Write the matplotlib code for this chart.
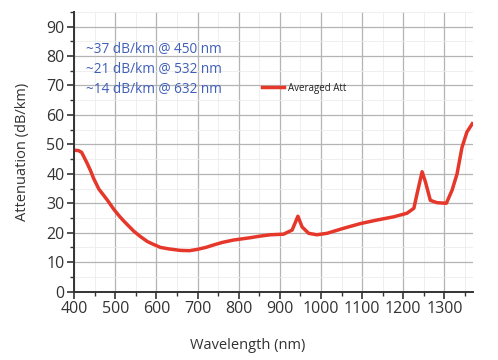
import numpy as np
import matplotlib.pyplot as plt
from matplotlib.ticker import MultipleLocator

# averaged attenuation
wavelength = [400, 410, 418, 430, 440, 447, 460, 470, 481, 496, 510, 521, 545,
              560, 578, 590, 610, 630, 658, 680, 698, 720, 738, 760, 787, 828,
              850, 877, 909, 930, 944, 954, 970, 990, 1015, 1055, 1096, 1136,
              1177, 1209, 1226, 1234, 1246, 1254, 1266, 1282, 1305, 1319, 1331,
              1343, 1355, 1368]
atten = [48.0, 47.9, 47.3, 44.0, 41.0, 38.5, 34.8, 33.0, 31.0, 28.0, 25.6,
         23.9, 20.5, 18.8, 17.0, 16.2, 15.0, 14.5, 14.0, 13.9, 14.3, 15.0, 15.8,
         16.7, 17.5, 18.3, 18.8, 19.3, 19.5, 20.9, 25.6, 22.0, 19.8, 19.3, 19.8,
         21.5, 23.1, 24.3, 25.4, 26.6, 28.3, 33.4, 40.7, 37.3, 31.0, 30.2, 30.0,
         34.5, 40.0, 49.0, 54.2, 57.0]

notes = ['~37 dB/km @ 450 nm', '~21 dB/km @ 532 nm', '~14 dB/km @ 632 nm']

plt.rcParams['font.family'] = ['Open Sans', 'DejaVu Sans']

fig = plt.figure(figsize=(4.98, 3.6), dpi=100)
ax = fig.add_axes([0.149, 0.19, 0.801, 0.777])

ax.plot(wavelength, atten, color='#e6372b', lw=2.5, label='Averaged Att',
        solid_joinstyle='round')

ax.set_xlim(400, 1370)
ax.set_ylim(0, 95)
ax.xaxis.set_minor_locator(MultipleLocator(50))
ax.yaxis.set_minor_locator(MultipleLocator(5))
ax.set_xticks(np.arange(400, 1301, 100))
ax.set_yticks(np.arange(0, 91, 10))

ax.grid(which='major', color='#b4b4b4', lw=0.9)
ax.grid(which='minor', color='#ececec', lw=0.6)
ax.set_axisbelow(True)

for s in ['top', 'right']:
    ax.spines[s].set_visible(False)
for s in ['left', 'bottom']:
    ax.spines[s].set_color('#333333')
    ax.spines[s].set_linewidth(1.4)

ax.tick_params(which='major', length=5, width=1.2, color='#333333',
               labelsize=11.5, labelcolor='#333333', pad=2)
ax.tick_params(which='minor', length=3, width=1.0, color='#333333')

ax.set_xlabel('Wavelength (nm)', fontsize=10.5, color='#333333')
ax.xaxis.set_label_coords(0.434, -0.165)
ax.set_ylabel('Attenuation (dB/km)', fontsize=10.5, color='#333333', labelpad=12)

for i, t in enumerate(notes):
    ax.text(0.03, 0.867 - i * 0.072, t, transform=ax.transAxes,
            fontsize=9.8, color='#3f5fb8', va='center')

leg = ax.legend(loc='center left', bbox_to_anchor=(0.459, 0.727), frameon=False,
                fontsize=7, handlelength=2.2, borderpad=0, handletextpad=0.5)
for t in leg.get_texts():
    t.set_color('#222222')

fig.savefig('out.png', dpi=100)
